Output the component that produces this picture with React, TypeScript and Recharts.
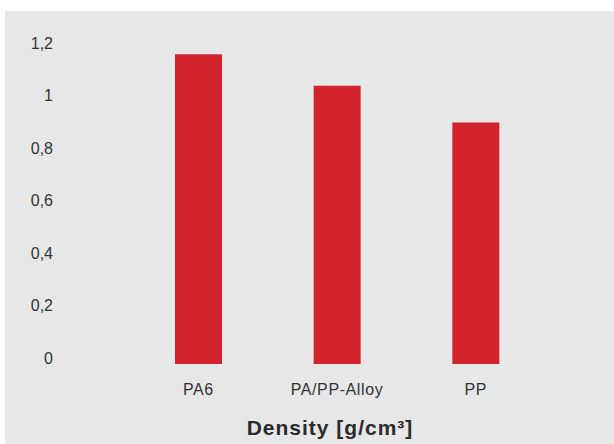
import { BarChart, Bar, XAxis, YAxis } from 'recharts'

const categories = ['PA6', 'PA/PP-Alloy', 'PP']
const density = [1.18, 1.06, 0.92]
const yTicks = [0, 0.2, 0.4, 0.6, 0.8, 1, 1.2]

const data = categories.map((name, i) => ({ name, density: density[i] }))

const FONT = '"Liberation Sans", Arial, sans-serif'

const YTick = ({ x, y, payload }: any) => (
  <text x={x} y={y - 6} dy="0.355em" textAnchor="end" fill="#333" fontSize={16} fontFamily={FONT}>
    {String(payload.value).replace('.', ',')}
  </text>
)

const App = () => {
  return (
    <div style={{ position: 'absolute', left: 5, top: 11, width: 609, height: 433, background: '#e6e7e9' }}>
      <BarChart width={609} height={433} data={data} margin={{ top: 38, right: 69, left: 64, bottom: 50 }}>
        <XAxis
          dataKey="name"
          axisLine={false}
          tickLine={false}
          tickSize={0}
          tickMargin={20}
          height={30}
          tick={{ fill: '#333', fontSize: 16, fontFamily: FONT, letterSpacing: 0.6 }}
        />
        <YAxis
          domain={[0, 1.2]}
          ticks={yTicks}
          axisLine={false}
          tickLine={false}
          tickSize={0}
          tickMargin={76}
          width={60}
          tick={<YTick />}
        />
        <Bar dataKey="density" fill="#d2232a" barSize={47} isAnimationActive={false} />
      </BarChart>
      <div
        style={{
          position: 'absolute',
          left: 175,
          top: 406,
          width: 300,
          textAlign: 'center',
          fontFamily: FONT,
          fontWeight: 'bold',
          fontSize: 21,
          lineHeight: '21px',
          letterSpacing: 1,
          color: '#2b2b2b',
        }}
      >
        Density [g/cm³]
      </div>
    </div>
  )
}

export default App
